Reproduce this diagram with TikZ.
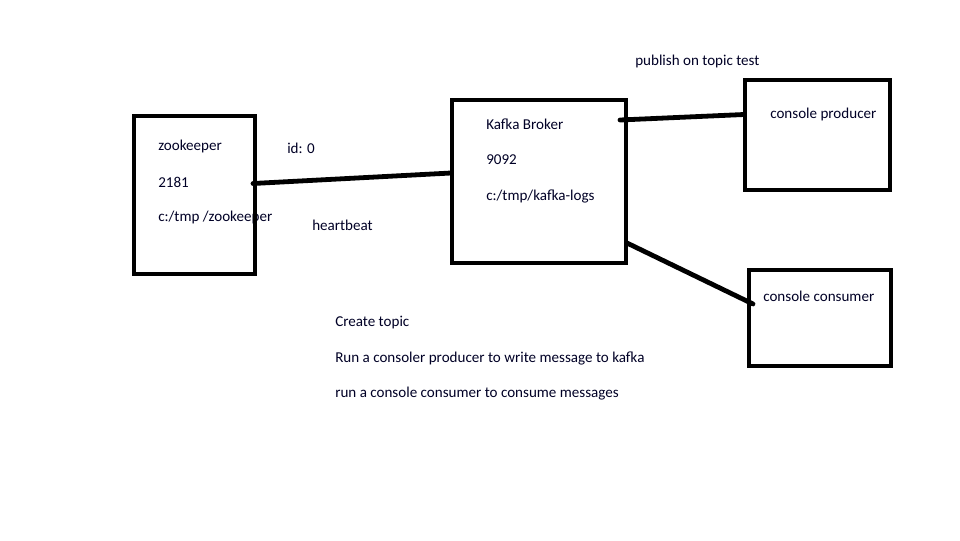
\documentclass[tikz,border=0pt]{standalone}
\usepackage{fontspec}
\setmainfont{Carlito}
\begin{document}
\begin{tikzpicture}[x=0.75pt,y=-0.75pt,
  lbl/.style={anchor=west,inner sep=0pt,font=\fontsize{11.3}{13}\selectfont,text=black!85!blue},
  boxx/.style={draw=black,line width=3.6pt,fill=none,inner sep=0pt,rectangle},
  wire/.style={draw=black,line width=3.6pt,line cap=round}]
\useasboundingbox[fill=white] (0,0) rectangle (960,540);
% texts
\node[lbl] (t1) at (158,146) {zookeeper};
\node[lbl] (t2) at (158,182) {2181};
\node[lbl] (t3) at (158,217) {c:/tmp /zookeeper};
\node[lbl] (t4) at (287,148) {id: 0};
\node[lbl] (t5) at (312,225) {heartbeat};
\node[lbl] (t6) at (486,124) {Kafka Broker};
\node[lbl] (t7) at (486,160) {9092};
\node[lbl] (t8) at (486,196) {c:/tmp/kafka-logs};
\node[lbl] (t9) at (635,61) {publish on topic test};
\node[lbl] (t10) at (770,114) {console producer};
\node[lbl] (t11) at (763,296) {console consumer};
\node[lbl] (t12) at (335,323) {Create topic};
\node[lbl] (t13) at (335,358) {Run a consoler producer to write message to kafka};
\node[lbl] (t14) at (335,394) {run a console consumer to consume messages};
% boxes
\draw[boxx] (134,116) rectangle (255,274);
\draw[boxx] (452,100) rectangle (626,263);
\draw[boxx] (745,80) rectangle (890,190);
\draw[boxx] (749,270) rectangle (891,366);
% connector ends
\coordinate (a1) at (253,183.5);
\coordinate (a2) at (451,173);
\coordinate (b1) at (620,120);
\coordinate (b2) at (744,114.5);
\coordinate (c1) at (627,243);
\coordinate (c2) at (753,304);
\draw[wire] (a1) -- (a2);
\draw[wire] (b1) -- (b2);
\draw[wire] (c1) -- (c2);
\end{tikzpicture}
\end{document}
